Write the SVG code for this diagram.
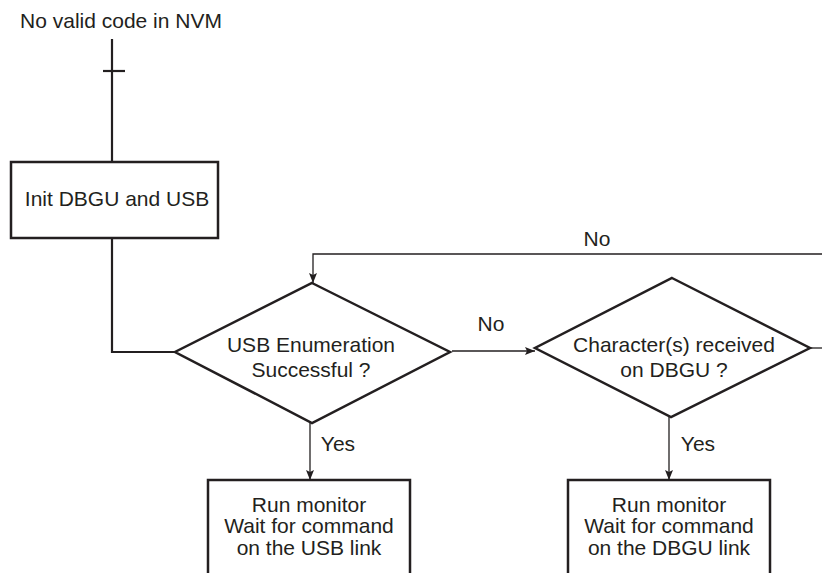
<svg xmlns="http://www.w3.org/2000/svg" width="822" height="573" viewBox="0 0 822 573">
<defs>
<marker id="arr" viewBox="0 0 10 8" refX="10" refY="4" markerWidth="10" markerHeight="8" markerUnits="userSpaceOnUse" orient="auto">
<path d="M0,0 L10,4 L0,8 L2,4 Z" fill="#231f20"/>
</marker>
</defs>
<style>
text{font-family:"Liberation Sans",Arial,sans-serif;font-size:21px;fill:#231f20;text-anchor:middle}
.shape{fill:#fff;stroke:#231f20;stroke-width:2.5}
.thick{fill:none;stroke:#231f20;stroke-width:2.2}
.thin{fill:none;stroke:#231f20;stroke-width:1.3}
</style>
<rect width="822" height="573" fill="#fff"/>
<g id="connectors">
<path class="thick" d="M112,39 V162"/>
<path class="thick" d="M103,71 H125"/>
<path class="thick" d="M112,238 V352 H176"/>
<path class="thin" d="M452,351 H535" marker-end="url(#arr)"/>
<path class="thin" d="M810,348 H822"/>
<path class="thin" d="M822,254 H313 V283" marker-end="url(#arr)"/>
<path class="thin" d="M310,423 V480" marker-end="url(#arr)"/>
<path class="thin" d="M669,417 V480" marker-end="url(#arr)"/>
<text x="597" y="246">No</text>
<text x="491" y="331">No</text>
<text x="338" y="451">Yes</text>
<text x="698" y="451">Yes</text>
</g>
<g id="start">
<text x="121" y="28">No valid code in NVM</text>
</g>
<g id="init">
<rect class="shape" x="11" y="162" width="207" height="76"/>
<text x="117" y="206">Init DBGU and USB</text>
</g>
<g id="usb-enum">
<polygon class="shape" points="312,283 450,352 312,423 175,352"/>
<text x="311" y="352">USB Enumeration</text>
<text x="311" y="377">Successful ?</text>
</g>
<g id="char-recv">
<polygon class="shape" points="672,278 810,348 671,417 535,348"/>
<text x="674" y="352">Character(s) received</text>
<text x="674" y="377">on DBGU ?</text>
</g>
<g id="usb-monitor">
<rect class="shape" x="208" y="480" width="202" height="110"/>
<text x="309" y="512">Run monitor</text>
<text x="309" y="533">Wait for command</text>
<text x="309" y="555">on the USB link</text>
</g>
<g id="dbgu-monitor">
<rect class="shape" x="568" y="480" width="202" height="110"/>
<text x="669" y="512">Run monitor</text>
<text x="669" y="533">Wait for command</text>
<text x="669" y="555">on the DBGU link</text>
</g>
</svg>
